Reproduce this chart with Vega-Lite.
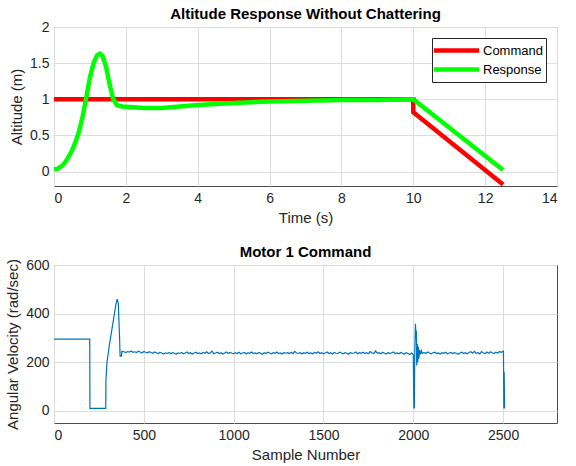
{
  "$schema": "https://vega.github.io/schema/vega-lite/v6.json",
  "padding": {"left": 5, "top": 6, "right": 5, "bottom": 2},
  "background": "white",
  "bounds": "flush",
  "spacing": 79,
  "config": {
    "font": "Liberation Sans",
    "view": {"stroke": "#4D4D4D", "strokeWidth": 1},
    "axis": {
      "domain": false,
      "ticks": false,
      "labelPadding": 5,
      "labelFontSize": 14,
      "labelColor": "#262626",
      "labelFont": "Liberation Sans",
      "titleFont": "Liberation Sans",
      "titleFontSize": 15,
      "titleFontWeight": "normal",
      "titleColor": "#262626",
      "titlePadding": 5,
      "gridColor": "#DCDCDC",
      "gridWidth": 1
    },
    "title": {"fontSize": 15, "fontWeight": "bold", "font": "Liberation Sans", "color": "#000000", "offset": -2}
  },
  "datasets": {
    "alt": [
      {"s": "Command", "o": 0, "t": 0, "v": 1},
      {"s": "Command", "o": 1, "t": 10, "v": 1},
      {"s": "Command", "o": 2, "t": 10, "v": 0.82},
      {"s": "Command", "o": 3, "t": 12.5, "v": -0.18},
      {"s": "Response", "o": 0, "t": 0, "v": 0.03},
      {"s": "Response", "o": 1, "t": 0.1, "v": 0.04},
      {"s": "Response", "o": 2, "t": 0.2, "v": 0.07},
      {"s": "Response", "o": 3, "t": 0.3, "v": 0.12},
      {"s": "Response", "o": 4, "t": 0.4, "v": 0.2},
      {"s": "Response", "o": 5, "t": 0.5, "v": 0.29},
      {"s": "Response", "o": 6, "t": 0.6, "v": 0.41},
      {"s": "Response", "o": 7, "t": 0.7, "v": 0.56},
      {"s": "Response", "o": 8, "t": 0.8, "v": 0.77},
      {"s": "Response", "o": 9, "t": 0.9, "v": 1.03},
      {"s": "Response", "o": 10, "t": 1.0, "v": 1.3},
      {"s": "Response", "o": 11, "t": 1.1, "v": 1.5},
      {"s": "Response", "o": 12, "t": 1.2, "v": 1.61},
      {"s": "Response", "o": 13, "t": 1.28, "v": 1.63},
      {"s": "Response", "o": 14, "t": 1.35, "v": 1.6},
      {"s": "Response", "o": 15, "t": 1.45, "v": 1.45},
      {"s": "Response", "o": 16, "t": 1.55, "v": 1.2},
      {"s": "Response", "o": 17, "t": 1.65, "v": 1.0},
      {"s": "Response", "o": 18, "t": 1.75, "v": 0.92},
      {"s": "Response", "o": 19, "t": 1.9, "v": 0.9},
      {"s": "Response", "o": 20, "t": 2.2, "v": 0.89},
      {"s": "Response", "o": 21, "t": 2.5, "v": 0.88},
      {"s": "Response", "o": 22, "t": 3.0, "v": 0.88},
      {"s": "Response", "o": 23, "t": 3.5, "v": 0.9},
      {"s": "Response", "o": 24, "t": 4, "v": 0.92},
      {"s": "Response", "o": 25, "t": 5, "v": 0.95},
      {"s": "Response", "o": 26, "t": 6, "v": 0.97},
      {"s": "Response", "o": 27, "t": 7, "v": 0.98},
      {"s": "Response", "o": 28, "t": 8, "v": 0.99},
      {"s": "Response", "o": 29, "t": 9, "v": 0.99},
      {"s": "Response", "o": 30, "t": 10, "v": 1.0},
      {"s": "Response", "o": 31, "t": 12.5, "v": 0.02}
    ],
    "motor": [
      {"n": 0, "w": 295}, {"n": 199, "w": 295}, {"n": 200, "w": 10}, {"n": 288, "w": 10},
      {"n": 289, "w": 125}, {"n": 295, "w": 200}, {"n": 310, "w": 280}, {"n": 330, "w": 370},
      {"n": 345, "w": 440}, {"n": 352, "w": 460}, {"n": 358, "w": 440}, {"n": 365, "w": 300},
      {"n": 368, "w": 225}, {"n": 375, "w": 225}, {"n": 378, "w": 245},
      {"n": 390, "w": 243}, {"n": 400, "w": 240}, {"n": 410, "w": 244}, {"n": 420, "w": 242},
      {"n": 430, "w": 246}, {"n": 440, "w": 241}, {"n": 450, "w": 243}, {"n": 460, "w": 240},
      {"n": 470, "w": 245}, {"n": 480, "w": 242}, {"n": 490, "w": 238}, {"n": 500, "w": 244},
      {"n": 510, "w": 241}, {"n": 520, "w": 239}, {"n": 530, "w": 243}, {"n": 540, "w": 240},
      {"n": 550, "w": 237}, {"n": 560, "w": 242}, {"n": 570, "w": 239}, {"n": 580, "w": 236},
      {"n": 590, "w": 240}, {"n": 600, "w": 238},
      {"n": 610, "w": 234}, {"n": 620, "w": 238}, {"n": 630, "w": 236}, {"n": 640, "w": 240}, {"n": 650, "w": 235},
      {"n": 660, "w": 239}, {"n": 670, "w": 237}, {"n": 680, "w": 233}, {"n": 690, "w": 238}, {"n": 700, "w": 236},
      {"n": 710, "w": 240}, {"n": 720, "w": 235}, {"n": 730, "w": 238}, {"n": 740, "w": 242}, {"n": 750, "w": 236},
      {"n": 760, "w": 239}, {"n": 770, "w": 234}, {"n": 780, "w": 238}, {"n": 790, "w": 241}, {"n": 800, "w": 236},
      {"n": 810, "w": 238}, {"n": 820, "w": 235}, {"n": 830, "w": 240}, {"n": 840, "w": 237}, {"n": 850, "w": 243},
      {"n": 860, "w": 236}, {"n": 870, "w": 239}, {"n": 880, "w": 246}, {"n": 890, "w": 235}, {"n": 900, "w": 238},
      {"n": 910, "w": 241}, {"n": 920, "w": 236}, {"n": 930, "w": 239}, {"n": 940, "w": 234}, {"n": 950, "w": 238},
      {"n": 960, "w": 242}, {"n": 970, "w": 236}, {"n": 980, "w": 240}, {"n": 990, "w": 237}, {"n": 1000, "w": 235},
      {"n": 1010, "w": 239}, {"n": 1020, "w": 236}, {"n": 1030, "w": 241}, {"n": 1040, "w": 235}, {"n": 1050, "w": 238},
      {"n": 1060, "w": 240}, {"n": 1070, "w": 234}, {"n": 1080, "w": 239}, {"n": 1090, "w": 237}, {"n": 1100, "w": 242},
      {"n": 1110, "w": 236}, {"n": 1120, "w": 238}, {"n": 1130, "w": 235}, {"n": 1140, "w": 240}, {"n": 1150, "w": 237},
      {"n": 1160, "w": 233}, {"n": 1170, "w": 239}, {"n": 1180, "w": 236}, {"n": 1190, "w": 241}, {"n": 1200, "w": 238},
      {"n": 1210, "w": 235}, {"n": 1220, "w": 239}, {"n": 1230, "w": 237}, {"n": 1240, "w": 242}, {"n": 1250, "w": 236},
      {"n": 1260, "w": 238}, {"n": 1270, "w": 234}, {"n": 1280, "w": 240}, {"n": 1290, "w": 237}, {"n": 1300, "w": 239},
      {"n": 1310, "w": 236}, {"n": 1320, "w": 241}, {"n": 1330, "w": 235}, {"n": 1340, "w": 245}, {"n": 1350, "w": 238},
      {"n": 1360, "w": 236}, {"n": 1370, "w": 240}, {"n": 1380, "w": 234}, {"n": 1390, "w": 239}, {"n": 1400, "w": 237},
      {"n": 1410, "w": 241}, {"n": 1420, "w": 236}, {"n": 1430, "w": 238}, {"n": 1440, "w": 235}, {"n": 1450, "w": 240},
      {"n": 1460, "w": 237}, {"n": 1470, "w": 243}, {"n": 1480, "w": 236}, {"n": 1490, "w": 239}, {"n": 1500, "w": 235},
      {"n": 1510, "w": 238}, {"n": 1520, "w": 242}, {"n": 1530, "w": 236}, {"n": 1540, "w": 239}, {"n": 1550, "w": 234},
      {"n": 1560, "w": 240}, {"n": 1570, "w": 237}, {"n": 1580, "w": 236}, {"n": 1590, "w": 241}, {"n": 1600, "w": 238},
      {"n": 1610, "w": 235}, {"n": 1620, "w": 239}, {"n": 1630, "w": 237}, {"n": 1640, "w": 233}, {"n": 1650, "w": 240},
      {"n": 1660, "w": 236}, {"n": 1670, "w": 238}, {"n": 1680, "w": 242}, {"n": 1690, "w": 235}, {"n": 1700, "w": 239},
      {"n": 1710, "w": 237}, {"n": 1720, "w": 241}, {"n": 1730, "w": 236}, {"n": 1740, "w": 239}, {"n": 1750, "w": 235},
      {"n": 1760, "w": 244}, {"n": 1770, "w": 238}, {"n": 1780, "w": 236}, {"n": 1790, "w": 246}, {"n": 1800, "w": 237},
      {"n": 1810, "w": 239}, {"n": 1820, "w": 235}, {"n": 1830, "w": 241}, {"n": 1840, "w": 237}, {"n": 1850, "w": 234},
      {"n": 1860, "w": 240}, {"n": 1870, "w": 236}, {"n": 1880, "w": 239}, {"n": 1890, "w": 242}, {"n": 1900, "w": 236},
      {"n": 1910, "w": 238}, {"n": 1920, "w": 235}, {"n": 1930, "w": 240}, {"n": 1940, "w": 237}, {"n": 1950, "w": 233},
      {"n": 1960, "w": 239}, {"n": 1970, "w": 236}, {"n": 1980, "w": 232}, {"n": 1990, "w": 238},
      {"n": 1995, "w": 235}, {"n": 2000, "w": 230}, {"n": 2003, "w": 12}, {"n": 2006, "w": 12}, {"n": 2008, "w": 240},
      {"n": 2012, "w": 358}, {"n": 2015, "w": 300}, {"n": 2017, "w": 330}, {"n": 2019, "w": 187}, {"n": 2022, "w": 276},
      {"n": 2025, "w": 200}, {"n": 2028, "w": 265}, {"n": 2031, "w": 215}, {"n": 2035, "w": 250}, {"n": 2040, "w": 232},
      {"n": 2045, "w": 248}, {"n": 2050, "w": 236},
      {"n": 2060, "w": 240}, {"n": 2070, "w": 236}, {"n": 2080, "w": 242}, {"n": 2090, "w": 238}, {"n": 2100, "w": 235},
      {"n": 2110, "w": 239}, {"n": 2120, "w": 241}, {"n": 2130, "w": 236}, {"n": 2140, "w": 238}, {"n": 2150, "w": 234},
      {"n": 2160, "w": 239}, {"n": 2170, "w": 237}, {"n": 2180, "w": 241}, {"n": 2190, "w": 235}, {"n": 2200, "w": 238},
      {"n": 2210, "w": 240}, {"n": 2220, "w": 236}, {"n": 2230, "w": 239}, {"n": 2240, "w": 237}, {"n": 2250, "w": 233},
      {"n": 2260, "w": 238}, {"n": 2270, "w": 241}, {"n": 2280, "w": 236}, {"n": 2290, "w": 239}, {"n": 2300, "w": 235},
      {"n": 2310, "w": 240}, {"n": 2320, "w": 243}, {"n": 2330, "w": 237}, {"n": 2340, "w": 245}, {"n": 2350, "w": 236},
      {"n": 2360, "w": 240}, {"n": 2370, "w": 234}, {"n": 2380, "w": 244}, {"n": 2390, "w": 238}, {"n": 2400, "w": 236},
      {"n": 2410, "w": 242}, {"n": 2420, "w": 237}, {"n": 2430, "w": 243}, {"n": 2440, "w": 239}, {"n": 2450, "w": 236},
      {"n": 2460, "w": 241}, {"n": 2470, "w": 238}, {"n": 2480, "w": 244}, {"n": 2490, "w": 240},
      {"n": 2500, "w": 246}, {"n": 2502, "w": 245}, {"n": 2504, "w": 10}, {"n": 2506, "w": 160}, {"n": 2508, "w": 10}
    ]
  },
  "vconcat": [
    {
      "title": "Altitude Response Without Chattering",
      "width": 503,
      "height": 159,
      "data": {"name": "alt"},
      "mark": {"type": "line", "strokeWidth": 4.5, "strokeJoin": "miter"},
      "encoding": {
        "x": {"field": "t", "type": "quantitative", "title": "Time (s)",
              "scale": {"domain": [0, 14], "nice": false},
              "axis": {"values": [0, 2, 4, 6, 8, 10, 12, 14]}},
        "y": {"field": "v", "type": "quantitative", "title": "Altitude (m)",
              "scale": {"domain": [-0.2, 2], "nice": false, "zero": false},
              "axis": {"values": [0, 0.5, 1, 1.5, 2], "format": "~g"}},
        "color": {"field": "s", "type": "nominal",
                  "scale": {"domain": ["Command", "Response"], "range": ["#FF0000", "#00FF00"]},
                  "legend": {"orient": "top-right", "offset": 11, "title": null,
                             "fillColor": "white", "strokeColor": "#262626", "padding": 3,
                             "symbolType": "M-3.2,0H3.2", "symbolStrokeWidth": 4.5, "symbolSize": 200,
                             "symbolFillColor": "transparent", "symbolOffset": 12,
                             "labelOffset": 17,
                             "labelFontSize": 13, "labelColor": "#000000", "labelFont": "Liberation Sans",
                             "rowPadding": -2}},
        "order": {"field": "o", "type": "quantitative"}
      }
    },
    {
      "title": "Motor 1 Command",
      "width": 503,
      "height": 158,
      "data": {"name": "motor"},
      "mark": {"type": "line", "strokeWidth": 1.2, "color": "#0072BD"},
      "encoding": {
        "x": {"field": "n", "type": "quantitative", "title": "Sample Number",
              "scale": {"domain": [0, 2800], "nice": false},
              "axis": {"values": [0, 500, 1000, 1500, 2000, 2500], "format": "d"}},
        "y": {"field": "w", "type": "quantitative", "title": "Angular Velocity (rad/sec)",
              "scale": {"domain": [-50, 600], "nice": false, "zero": false},
              "axis": {"values": [0, 200, 400, 600]}}
      }
    }
  ]
}
